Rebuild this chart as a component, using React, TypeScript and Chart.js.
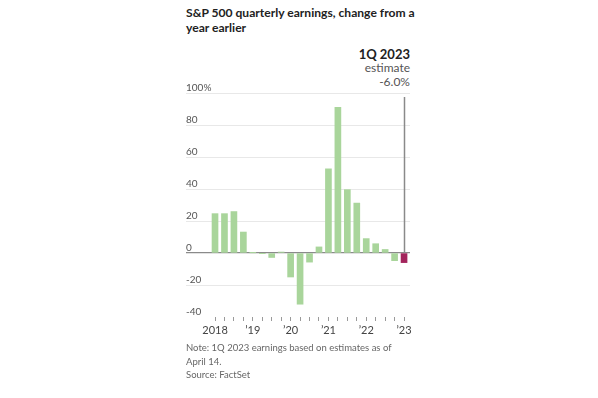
import React, { useEffect, useRef } from "react";
import { Chart, registerables } from "chart.js";

Chart.register(...registerables);

const quarters = [
  "1Q18", "2Q18", "3Q18", "4Q18",
  "1Q19", "2Q19", "3Q19", "4Q19",
  "1Q20", "2Q20", "3Q20", "4Q20",
  "1Q21", "2Q21", "3Q21", "4Q21",
  "1Q22", "2Q22", "3Q22", "4Q22",
  "1Q23",
];
const growth = [
  24.6, 24.6, 25.9, 13.1,
  0.1, -0.2, -2.8, 0.6,
  -15.0, -32.0, -5.7, 3.8,
  52.6, 91.0, 39.6, 31.2,
  9.0, 5.8, 2.2, -4.8,
  -6.0,
];
const yearLabels: Record<number, string> = {
  0: "2018",
  4: "\u201919",
  8: "\u201920",
  12: "\u201921",
  16: "\u201922",
  20: "\u201923",
};
const yTicks = [-40, -20, 0, 20, 40, 60, 80, 100];

const GREEN = "#a9d59b";
const MAGENTA = "#a3245c";
const FONT = "Lato, 'Noto Sans', sans-serif";

export default function App() {
  const ref = useRef<HTMLCanvasElement | null>(null);

  useEffect(() => {
    if (!ref.current) return;
    const last = growth.length - 1;
    const estLine = {
      id: "estLine",
      afterDatasetsDraw(chart: any) {
        const { ctx, scales, chartArea } = chart;
        const x = Math.round(scales.x.getPixelForValue(last)) + 0.5;
        ctx.save();
        ctx.strokeStyle = "#8a8a8a";
        ctx.lineWidth = 1.5;
        ctx.beginPath();
        ctx.moveTo(x, chartArea.top + 4);
        ctx.lineTo(x, scales.y.getPixelForValue(0));
        ctx.stroke();
        ctx.restore();
      },
    };
    const chart = new Chart(ref.current, {
      type: "bar",
      data: {
        datasets: [
          {
            data: growth.map((v, i) => ({ x: i, y: v })),
            backgroundColor: growth.map((_, i) => (i === last ? MAGENTA : GREEN)),
            barThickness: 6,
            borderWidth: 0,
          },
        ],
      },
      options: {
        animation: false,
        responsive: false,
        devicePixelRatio: 1,
        layout: { padding: { top: 13, left: 0, right: 6, bottom: 0 } },
        plugins: { legend: { display: false }, tooltip: { enabled: false }, title: { display: false } },
        scales: {
          x: {
            type: "linear",
            bounds: "data",
            offset: false,
            min: -3.07,
            max: 20.63,
            border: { display: false },
            grid: { drawOnChartArea: false, drawTicks: true, tickLength: 4, color: "#9a9a9a", offset: false },
            afterBuildTicks: (axis: any) => {
              axis.ticks = quarters.map((_, i) => ({ value: i }));
            },
            afterFit: (axis: any) => {
              axis.height = 25;
            },
            ticks: {
              autoSkip: false,
              maxRotation: 0,
              padding: 3,
              color: "#444",
              font: { family: FONT, size: 11 },
              callback: (v: any) => yearLabels[v as number] ?? "",
            },
          },
          y: {
            min: -40,
            max: 100,
            border: { display: false },
            afterBuildTicks: (axis: any) => {
              axis.ticks = yTicks.map((v) => ({ value: v }));
            },
            afterFit: (axis: any) => {
              axis.width = 0;
            },
            grid: {
              drawTicks: false,
              color: (c: any) =>
                c.tick && c.tick.value === 0 ? "#8a8a8a" : c.tick && c.tick.value === -40 ? "rgba(0,0,0,0)" : "#e8e8e8",
              lineWidth: (c: any) => (c.tick && c.tick.value === 0 ? 1.2 : 1),
            },
            ticks: {
              mirror: true,
              padding: 0,
              labelOffset: -5,
              color: "#555",
              font: { family: FONT, size: 10 },
              callback: (v: any) => (v === 100 ? "100%" : String(v)),
            },
          },
        },
      },
      plugins: [estLine],
    } as any);
    return () => chart.destroy();
  }, []);

  const text: React.CSSProperties = { position: "absolute", fontFamily: FONT, margin: 0, whiteSpace: "nowrap" };

  return (
    <div style={{ position: "fixed", left: 0, top: 0, width: 598, height: 398, background: "#fff", overflow: "hidden" }}>
      <div style={{ ...text, left: 186, top: 5, fontSize: 12.1, fontWeight: 700, color: "#222", lineHeight: "15px", whiteSpace: "normal", width: 240 }}>
        S&amp;P 500 quarterly earnings, change from a
        <br />
        year earlier
      </div>
      <div style={{ ...text, right: 188, top: 47, textAlign: "right", color: "#555", fontSize: 12, lineHeight: "14px" }}>
        <div style={{ fontWeight: 700, color: "#222", fontSize: 13 }}>1Q 2023</div>
        <div>estimate</div>
        <div>-6.0%</div>
      </div>
      <canvas ref={ref} width={230} height={262} style={{ position: "absolute", left: 186, top: 80, width: 230, height: 262 }} />
      <div style={{ ...text, left: 186, top: 341, fontSize: 9.5, color: "#666", lineHeight: "13.5px" }}>
        Note: 1Q 2023 earnings based on estimates as of
        <br />
        April 14.
        <br />
        Source: FactSet
      </div>
    </div>
  );
}
